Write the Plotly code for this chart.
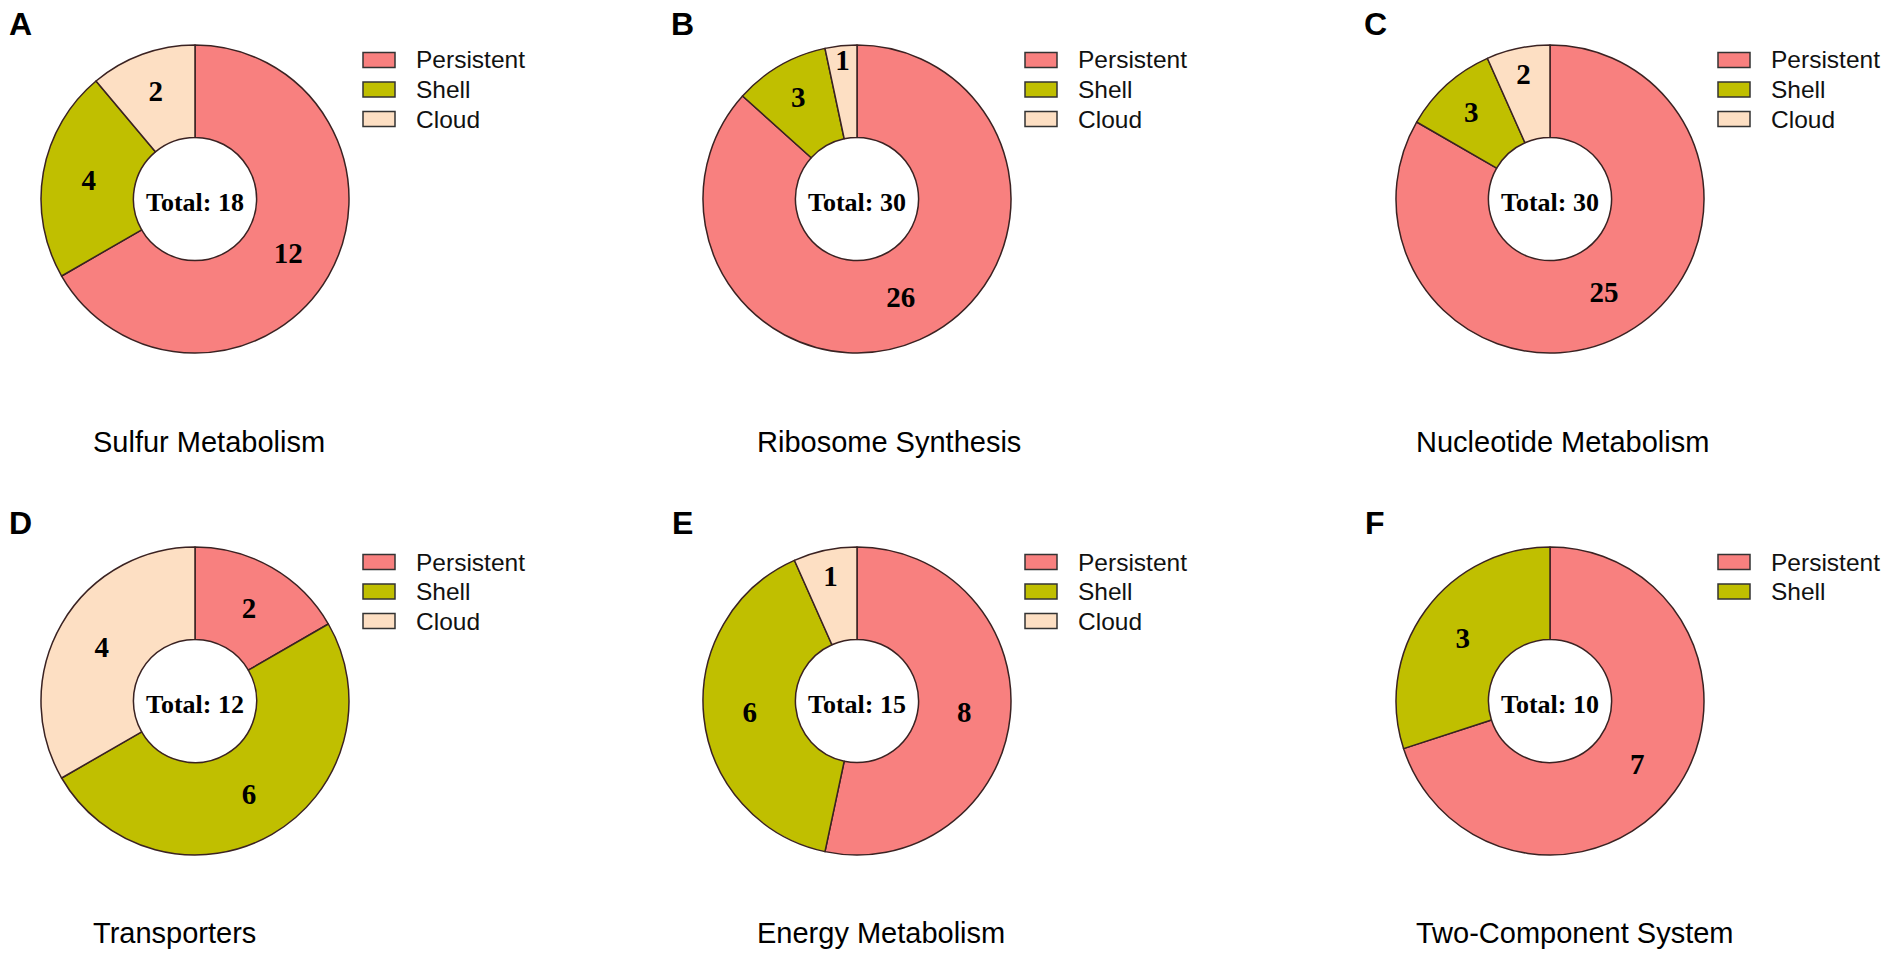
import plotly.graph_objects as go

# ---------------- data ----------------
categories = ["Persistent", "Shell", "Cloud"]
category_colors = ["#F8807F", "#C0BF00", "#FDDFC3"]

panel_letters = ["A", "B", "C", "D", "E", "F"]
panel_titles = ["Sulfur Metabolism", "Ribosome Synthesis", "Nucleotide Metabolism",
                "Transporters", "Energy Metabolism", "Two-Component System"]

sulfur_metabolism = [12, 4, 2]
ribosome_synthesis = [26, 3, 1]
nucleotide_metabolism = [25, 3, 2]
transporters = [2, 6, 4]
energy_metabolism = [8, 6, 1]
two_component_system = [7, 3]

panel_values = [sulfur_metabolism, ribosome_synthesis, nucleotide_metabolism,
                transporters, energy_metabolism, two_component_system]

# ---------------- layout (pixels) ----------------
W, H = 1892, 954
col_cx = [195, 857, 1550]
row_cy = [199, 701]
R = 154
title_left = [91, 755, 1414]
title_cy = [442, 933]
letter_cx = [20, 682, 1375]
letter_cy = [24, 523]

SANS = "Liberation Sans, Arial, sans-serif"
SERIF = "Liberation Serif, Times New Roman, serif"
EDGE = "#3a2222"


def px(x):
    return x / W


def py(y):
    return 1 - y / H


fig = go.Figure()
shapes = []
annotations = []

for k, vals in enumerate(panel_values):
    r, c = divmod(k, 3)
    cx, cy = col_cx[c], row_cy[r]
    labs = categories[:len(vals)]
    cols = category_colors[:len(vals)]
    fig.add_trace(go.Pie(
        labels=labs, values=vals, sort=False, direction="clockwise", rotation=0,
        hole=0.4,
        marker=dict(colors=cols, line=dict(color=EDGE, width=1.5)),
        textinfo="value", textposition="inside", insidetextorientation="horizontal",
        textfont=dict(family=SERIF, size=29, color="black", weight="bold"),
        title=dict(text=f"<b>Total: {sum(vals)}</b>", position="middle center",
                   font=dict(family=SERIF, size=26, color="black")),
        domain=dict(x=[px(cx - R), px(cx + R)], y=[py(cy + R), py(cy - R)]),
        showlegend=False, hoverinfo="label+value",
    ))
    # custom legend
    for i, (lab, col) in enumerate(zip(labs, cols)):
        yc = cy - 139 + i * 29.5
        shapes.append(dict(type="rect", xref="paper", yref="paper",
                           x0=px(cx + 168), x1=px(cx + 200),
                           y0=py(yc + 7.5), y1=py(yc - 7.5),
                           fillcolor=col, line=dict(color="#333333", width=1.5)))
        annotations.append(dict(x=px(cx + 219), y=py(yc), xref="paper", yref="paper",
                                text=lab, showarrow=False, xanchor="left", yanchor="middle",
                                font=dict(family=SANS, size=24.5, color="#111111")))
    # panel title
    annotations.append(dict(x=px(title_left[c]), y=py(title_cy[r]), xref="paper", yref="paper",
                            text=panel_titles[k], showarrow=False, xanchor="left",
                            yanchor="middle", font=dict(family=SANS, size=29, color="black")))
    # panel letter
    annotations.append(dict(x=px(letter_cx[c]), y=py(letter_cy[r]), xref="paper", yref="paper",
                            text=f"<b>{panel_letters[k]}</b>", showarrow=False, xanchor="center",
                            yanchor="middle", font=dict(family=SANS, size=32, color="black")))

fig.update_layout(
    width=W, height=H,
    margin=dict(l=0, r=0, t=0, b=0),
    paper_bgcolor="white", plot_bgcolor="white",
    shapes=shapes, annotations=annotations,
    uniformtext=dict(minsize=29, mode="show"),
)

fig.write_html("out.html", include_plotlyjs=True, config={"displayModeBar": False},
               post_script="document.body.style.margin='0';document.body.style.overflow='hidden';")
